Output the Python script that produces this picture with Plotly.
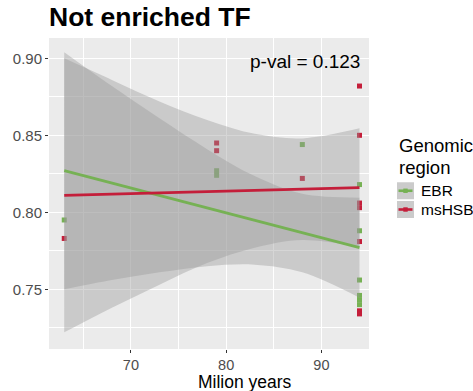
import plotly.graph_objects as go

# ---- data ----
years_ebr = [63, 79, 79, 88, 94, 94, 94, 94, 94, 94]
ebr_vals = [0.795, 0.827, 0.824, 0.844, 0.818, 0.788, 0.756, 0.746, 0.743, 0.740]
years_hsb = [63, 79, 79, 88, 94, 94, 94, 94, 94, 94, 94]
hsb_vals = [0.783, 0.845, 0.840, 0.822, 0.882, 0.850, 0.806, 0.803, 0.781, 0.736, 0.734]

# fitted lines and confidence bands
fit_x = [63, 68, 73, 78, 83, 88, 94]
ebr_fit = [0.827, 0.8189, 0.8109, 0.8028, 0.7948, 0.7867, 0.777]
ebr_lo = [0.750, 0.756, 0.761, 0.765, 0.766, 0.761, 0.7445]
ebr_hi = [0.904, 0.882, 0.861, 0.841, 0.8235, 0.812, 0.8095]
hsb_fit = [0.811, 0.8118, 0.8126, 0.8134, 0.8142, 0.8150, 0.816]
hsb_lo = [0.722, 0.738, 0.753, 0.767, 0.777, 0.782, 0.7775]
hsb_hi = [0.900, 0.886, 0.872, 0.860, 0.851, 0.848, 0.8545]

x_ticks = [70, 80, 90]
y_ticks = [0.75, 0.80, 0.85, 0.90]
y_tick_text = ["0.75", "0.80", "0.85", "0.90"]
series_names = ["EBR", "msHSB"]

GREEN = "#76B154"
RED = "#C41E3A"
FONT = "Liberation Sans"

W, H = 473, 391
L, R, T, B = 49, 104, 38, 42
PW, PH = W - L - R, H - T - B

def px_x(px):
    return (px - L) / PW

def px_y(py):
    return (H - B - py) / PH

XR = [61.4, 95.0]
YR = [0.7112, 0.9132]

fig = go.Figure()

# points (drawn underneath the ribbons)
for xs, ys, col, nm in [(years_ebr, ebr_vals, GREEN, series_names[0]),
                        (years_hsb, hsb_vals, RED, series_names[1])]:
    fig.add_trace(go.Scatter(x=xs, y=ys, mode="markers", name=nm, showlegend=False,
                             marker=dict(symbol="square", size=5, color=col,
                                         line=dict(width=0)),
                             xaxis="x", yaxis="y"))

# ribbons on overlay axes (above points)
for lo, hi in [(ebr_lo, ebr_hi), (hsb_lo, hsb_hi)]:
    fig.add_trace(go.Scatter(x=fit_x, y=lo, mode="lines", showlegend=False,
                             line=dict(width=0, shape="spline"), hoverinfo="skip",
                             xaxis="x2", yaxis="y2"))
    fig.add_trace(go.Scatter(x=fit_x, y=hi, mode="lines", showlegend=False,
                             line=dict(width=0, shape="spline"), fill="tonexty",
                             fillcolor="rgba(153,153,153,0.4)", hoverinfo="skip",
                             xaxis="x2", yaxis="y2"))

# fitted lines
for ys, col in [(ebr_fit, GREEN), (hsb_fit, RED)]:
    fig.add_trace(go.Scatter(x=fit_x, y=ys, mode="lines", showlegend=False,
                             line=dict(width=2.8, color=col),
                             xaxis="x2", yaxis="y2"))

axis_common = dict(showline=False, zeroline=False)
fig.update_layout(
    width=W, height=H,
    margin=dict(l=L, r=R, t=T, b=B, pad=0),
    paper_bgcolor="white", plot_bgcolor="#EBEBEB",
    font=dict(family=FONT, color="black"),
    showlegend=False,
    title=dict(text="<b>Not enriched TF</b>", x=49 / W,
               xref="container", xanchor="left", y=1 - 17 / H, yref="container",
               yanchor="middle", font=dict(size=26.5, color="black", family=FONT)),
    xaxis=dict(range=XR, tickvals=x_ticks, ticks="outside", ticklen=3, tickwidth=1,
               tickcolor="#333333", tickfont=dict(size=14.5, color="#4D4D4D"),
               showgrid=True, gridcolor="white", gridwidth=1.1,
               minor=dict(tickvals=[65, 75, 85, 95], showgrid=True, gridcolor="white",
                          gridwidth=0.5, ticks=""),
               **axis_common),
    yaxis=dict(range=YR, tickvals=y_ticks, ticktext=y_tick_text, ticks="outside",
               ticklen=3, tickwidth=1, tickcolor="#333333",
               tickfont=dict(size=15, color="#4D4D4D"),
               showgrid=True, gridcolor="white", gridwidth=1.1,
               minor=dict(tickvals=[0.725, 0.775, 0.825, 0.875], showgrid=True,
                          gridcolor="white", gridwidth=0.5, ticks=""),
               **axis_common),
    xaxis2=dict(range=XR, overlaying="x", visible=False),
    yaxis2=dict(range=YR, overlaying="y", visible=False),
)

ann = []
ann.append(dict(text="p-val = 0.123", x=px_x(362), y=px_y(61), xref="paper", yref="paper",
                xanchor="right", yanchor="middle", showarrow=False,
                font=dict(size=19, color="black")))
ann.append(dict(text="Milion years", x=px_x(245), y=px_y(382), xref="paper", yref="paper",
                xanchor="center", yanchor="middle", showarrow=False,
                font=dict(size=17.5, color="black")))
ann.append(dict(text="Genomic", x=px_x(397), y=px_y(145), xref="paper", yref="paper",
                xanchor="left", yanchor="middle", showarrow=False,
                font=dict(size=18.5, color="black")))
ann.append(dict(text="region", x=px_x(397), y=px_y(167), xref="paper", yref="paper",
                xanchor="left", yanchor="middle", showarrow=False,
                font=dict(size=18.5, color="black")))

shapes = []
rows = [(190.75, GREEN, series_names[0]), (209.5, RED, series_names[1])]
for cy, col, nm in rows:
    shapes.append(dict(type="rect", xref="paper", yref="paper",
                       x0=px_x(397), x1=px_x(414), y0=px_y(cy - 8.5), y1=px_y(cy + 8.5),
                       fillcolor="#CBCBCB", line=dict(width=0), layer="above"))
    shapes.append(dict(type="line", xref="paper", yref="paper",
                       x0=px_x(398.5), x1=px_x(412.5), y0=px_y(cy), y1=px_y(cy),
                       line=dict(color=col, width=2.6), layer="above"))
    shapes.append(dict(type="rect", xref="paper", yref="paper",
                       x0=px_x(403.3), x1=px_x(407.7), y0=px_y(cy - 2.2), y1=px_y(cy + 2.2),
                       fillcolor=col, line=dict(width=0), layer="above"))
    ann.append(dict(text=nm, x=px_x(419), y=px_y(cy), xref="paper", yref="paper",
                    xanchor="left", yanchor="middle", showarrow=False,
                    font=dict(size=15.5, color="black")))

fig.update_layout(annotations=ann, shapes=shapes)
fig.write_html("out.html")
